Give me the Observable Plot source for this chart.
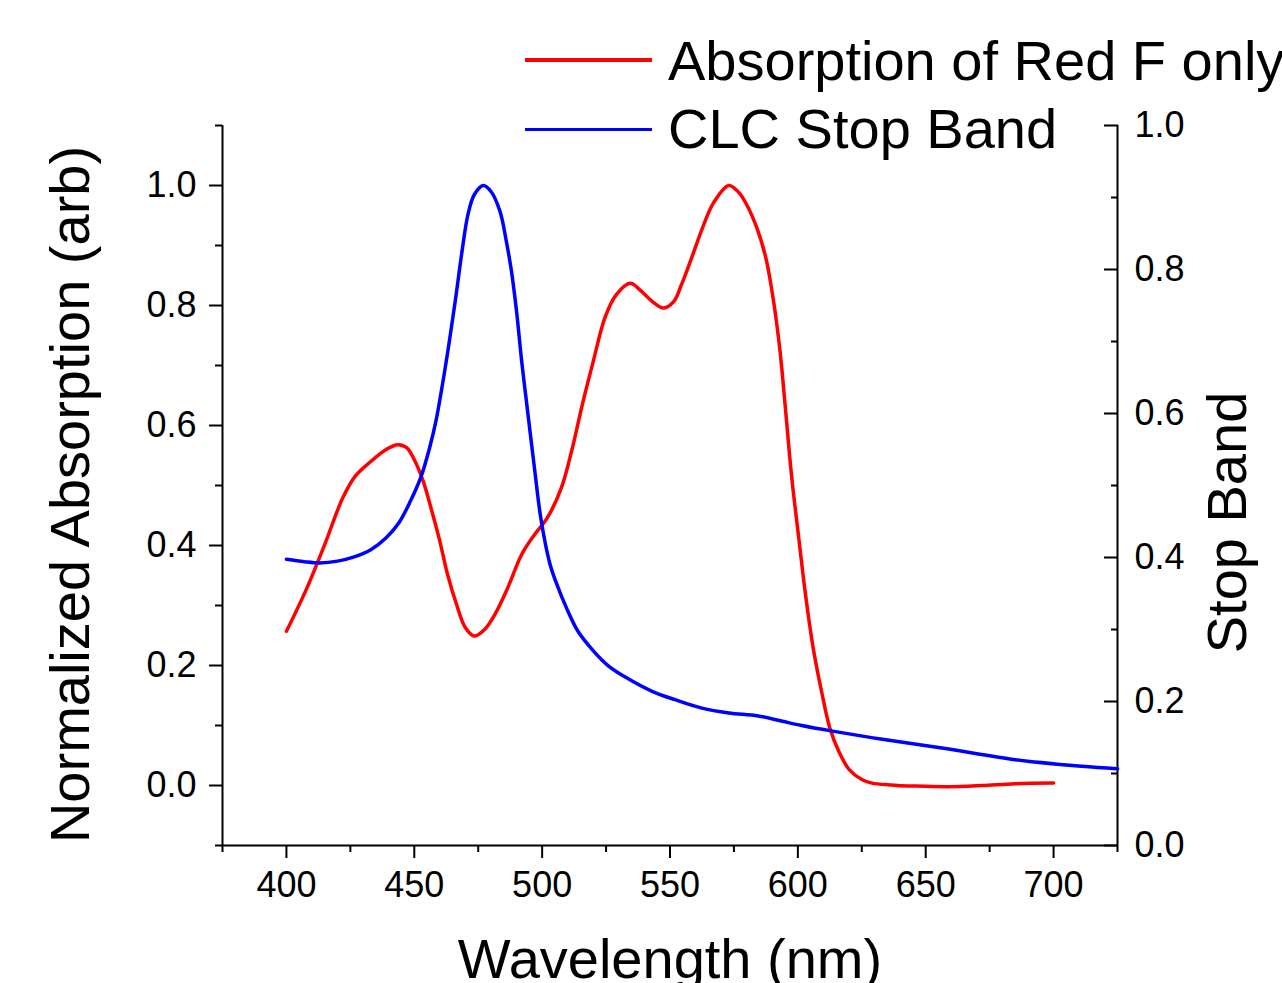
<!DOCTYPE html>
<html>
<head>
<meta charset="utf-8">
<script src="https://cdn.jsdelivr.net/npm/d3@7"></script>
<script src="https://cdn.jsdelivr.net/npm/@observablehq/plot@0.6"></script>
<style>
html, body { margin: 0; padding: 0; background: #fff; overflow: hidden; }
#wrap { position: relative; width: 1282px; height: 983px; overflow: hidden;
        font-family: "Liberation Sans", Arial, sans-serif; }
#wrap svg { position: absolute; left: 0; top: 0; }
.leg { position: absolute; font-size: 56px; line-height: 56px; white-space: nowrap; color: #000; }
.sw { position: absolute; height: 3.5px; }
</style>
</head>
<body>
<div id="wrap"></div>
<script>
// ---- data ----
const redWavelength = [400, 408, 415, 422, 427, 433, 439, 443.5, 447, 450, 453.5, 456.5, 460, 463, 466.5, 470, 473.5, 477.5, 481.5, 486.5, 492, 497, 502, 507.5, 511.5, 516, 520, 524.5, 529, 534.5, 538, 543, 547.5, 551.5, 554.5, 558, 562.5, 567, 573, 577, 580, 584, 587.5, 590.5, 593, 595, 597.5, 600.5, 603, 606, 609.5, 612.5, 616, 620, 625, 629, 636, 646, 659, 672, 685, 700];
const redAbsorption = [0.257, 0.329, 0.402, 0.479, 0.516, 0.540, 0.560, 0.568, 0.563, 0.543, 0.507, 0.463, 0.407, 0.352, 0.302, 0.263, 0.249, 0.260, 0.285, 0.329, 0.385, 0.418, 0.446, 0.496, 0.557, 0.640, 0.707, 0.779, 0.818, 0.837, 0.827, 0.807, 0.796, 0.807, 0.835, 0.874, 0.927, 0.971, 1.000, 0.988, 0.968, 0.929, 0.879, 0.807, 0.725, 0.635, 0.518, 0.407, 0.318, 0.229, 0.152, 0.096, 0.057, 0.027, 0.010, 0.004, 0.001, -0.001, -0.002, 0.000, 0.003, 0.004];
const blueWavelength = [400, 407, 413, 420, 426.5, 433, 439, 444, 448.5, 452.5, 456, 458.5, 462.5, 466, 468.5, 471, 473.5, 477, 480, 483.5, 486, 488, 490, 492, 494, 497, 499.5, 503, 505.5, 509.5, 514, 519.5, 526, 534, 543, 552, 562.5, 573, 584.5, 594, 601.5, 613, 633, 657, 685, 711, 725];
const blueStopBand = [0.377, 0.373, 0.371, 0.374, 0.381, 0.393, 0.413, 0.438, 0.474, 0.513, 0.563, 0.608, 0.707, 0.807, 0.885, 0.952, 0.985, 1.000, 0.990, 0.957, 0.907, 0.857, 0.790, 0.707, 0.635, 0.529, 0.445, 0.370, 0.338, 0.296, 0.257, 0.227, 0.199, 0.177, 0.157, 0.143, 0.129, 0.121, 0.116, 0.107, 0.100, 0.091, 0.077, 0.062, 0.043, 0.032, 0.028];

const xMajorTicks = [400, 450, 500, 550, 600, 650, 700];
const xMinorTicks = [375, 425, 475, 525, 575, 625, 675, 725];
const leftMajorTicks = [0, 0.2, 0.4, 0.6, 0.8, 1.0];
const leftMinorTicks = [-0.1, 0.1, 0.3, 0.5, 0.7, 0.9, 1.1];
const rightMajorTicks = [0, 0.2, 0.4, 0.6, 0.8, 1.0];
const rightMinorTicks = [0.1, 0.3, 0.5, 0.7, 0.9];

const seriesNames = ["Absorption of Red F only", "CLC Stop Band"];
const seriesColors = ["#ff0000", "#0000ff"];
const xTitle = "Wavelength (nm)";
const yTitle = "Normalized Absorption (arb)";
const y2Title = "Stop Band";

const xDomain = [375, 725];
const yDomain = [-0.1, 1.1];
// right axis (0..1) spans the same height as the left axis (-0.1..1.1)
const toLeft = r => r * (yDomain[1] - yDomain[0]) + yDomain[0];
const toRight = l => (l - yDomain[0]) / (yDomain[1] - yDomain[0]);

const red = redWavelength.map((w, i) => ({w, v: redAbsorption[i]}));
const blue = blueWavelength.map((w, i) => ({w, v: blueStopBand[i]}));

const font = "'Liberation Sans', Arial, sans-serif";

const chart = Plot.plot({
  width: 1282,
  height: 983,
  marginLeft: 222,
  marginRight: 165,
  marginTop: 125,
  marginBottom: 138,
  style: {fontFamily: font, fontSize: "36px", background: "transparent", color: "#000", overflow: "visible"},
  x: {domain: xDomain},
  y: {domain: yDomain},
  marks: [
    // bottom axis
    Plot.axisX({ticks: xMajorTicks, tickSize: 13, tickPadding: 13, strokeWidth: 2, label: null, tickFormat: d => String(d)}),
    Plot.axisX({ticks: xMinorTicks, tickSize: 7, strokeWidth: 2, label: null, tickFormat: () => ""}),
    // left axis
    Plot.axisY({ticks: leftMajorTicks, tickSize: 13, tickPadding: 13, strokeWidth: 2, label: null, tickFormat: d => d.toFixed(1)}),
    Plot.axisY({ticks: leftMinorTicks, tickSize: 7, strokeWidth: 2, label: null, tickFormat: () => ""}),
    // right axis (ticks pointing inward)
    Plot.axisY({anchor: "right", ticks: rightMajorTicks.map(toLeft), tickSize: -14, tickPadding: 31, strokeWidth: 2, label: null,
                tickFormat: d => toRight(d).toFixed(1)}),
    Plot.axisY({anchor: "right", ticks: rightMinorTicks.map(toLeft), tickSize: -7, strokeWidth: 2, label: null, tickFormat: () => ""}),
    // axis lines
    Plot.ruleX(xDomain, {stroke: "#000", strokeWidth: 2}),
    Plot.ruleY([yDomain[0]], {stroke: "#000", strokeWidth: 2}),
    // series
    Plot.line(red, {x: "w", y: "v", stroke: seriesColors[0], strokeWidth: 3.5, curve: "catmull-rom"}),
    Plot.line(blue, {x: "w", y: "v", stroke: seriesColors[1], strokeWidth: 3.5, curve: "catmull-rom"}),
    // axis titles
    Plot.text([xTitle], {frameAnchor: "bottom", dy: 132, fontSize: 56, lineAnchor: "bottom", textAnchor: "middle", fill: "#000"}),
    Plot.text([yTitle], {frameAnchor: "left", rotate: -90, dx: -134, dy: 9, fontSize: 56, lineAnchor: "bottom", textAnchor: "middle", fill: "#000"}),
    Plot.text([y2Title], {frameAnchor: "right", rotate: -90, dx: 128, dy: 37, fontSize: 56, lineAnchor: "bottom", textAnchor: "middle", fill: "#000"})
  ]
});

const wrap = document.getElementById("wrap");
wrap.appendChild(chart);

// legend (top right, overlapping the plot's top edge)
const legendRows = [{lineY: 60, textTop: 32.6}, {lineY: 129.3, textTop: 100.9}];
seriesNames.forEach((name, i) => {
  const sw = document.createElement("div");
  sw.className = "sw";
  sw.style.left = "525px";
  sw.style.width = "127px";
  sw.style.top = (legendRows[i].lineY - 1.75) + "px";
  sw.style.background = seriesColors[i];
  wrap.appendChild(sw);
  const t = document.createElement("div");
  t.className = "leg";
  t.style.left = "668px";
  t.style.top = legendRows[i].textTop + "px";
  t.textContent = name;
  wrap.appendChild(t);
});
</script>
</body>
</html>
